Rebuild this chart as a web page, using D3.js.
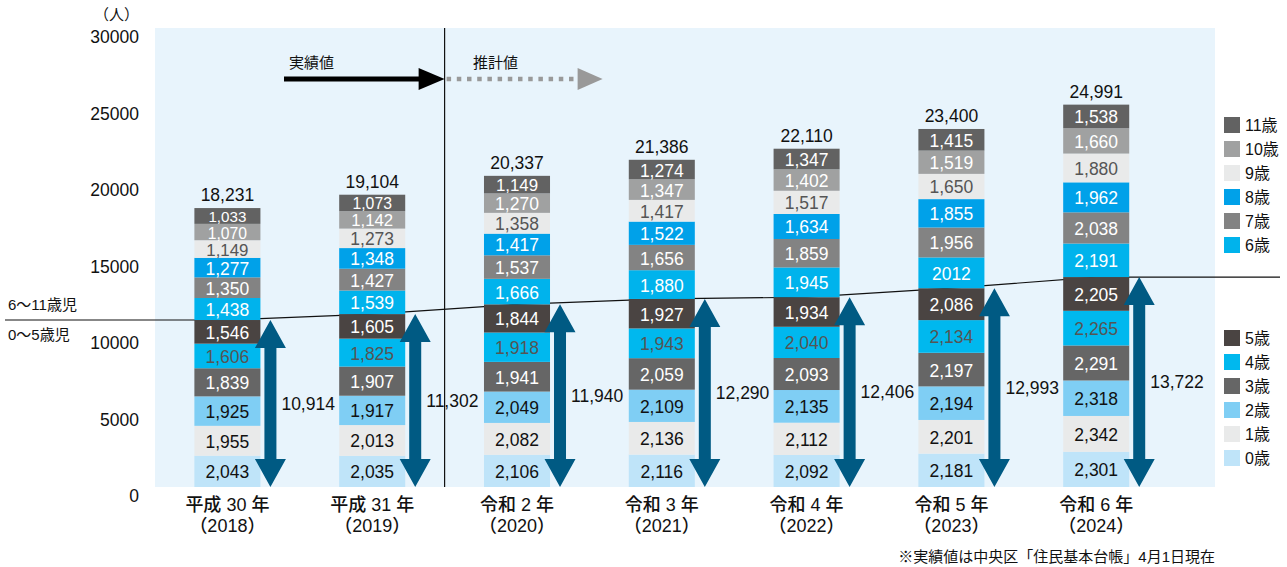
<!DOCTYPE html>
<html>
<head>
<meta charset="utf-8">
<script src="https://cdn.jsdelivr.net/npm/d3@7"></script>
<style>
	body { margin: 0; background: #fff; }
	svg { display: block; font-family: "Liberation Sans", "Noto Sans CJK JP", sans-serif; }
</style>
</head>
<body>
<div id="chart"></div>
<script>

///////////////////////////////////////////////////////////////////////
// data

const years = [ "2018", "2019", "2020", "2021", "2022", "2023", "2024" ];
const era_labels = [ "平成 30 年", "平成 31 年", "令和 2 年", "令和 3 年", "令和 4 年", "令和 5 年", "令和 6 年" ];
const ages = [ "0歳", "1歳", "2歳", "3歳", "4歳", "5歳", "6歳", "7歳", "8歳", "9歳", "10歳", "11歳" ];

// one row per age, one value per year
const age0  = [ 2043, 2035, 2106, 2116, 2092, 2181, 2301 ];
const age1  = [ 1955, 2013, 2082, 2136, 2112, 2201, 2342 ];
const age2  = [ 1925, 1917, 2049, 2109, 2135, 2194, 2318 ];
const age3  = [ 1839, 1907, 1941, 2059, 2093, 2197, 2291 ];
const age4  = [ 1606, 1825, 1918, 1943, 2040, 2134, 2265 ];
const age5  = [ 1546, 1605, 1844, 1927, 1934, 2086, 2205 ];
const age6  = [ 1438, 1539, 1666, 1880, 1945, 2012, 2191 ];
const age7  = [ 1350, 1427, 1537, 1656, 1859, 1956, 2038 ];
const age8  = [ 1277, 1348, 1417, 1522, 1634, 1855, 1962 ];
const age9  = [ 1149, 1273, 1358, 1417, 1517, 1650, 1880 ];
const age10 = [ 1070, 1142, 1270, 1347, 1402, 1519, 1660 ];
const age11 = [ 1033, 1073, 1149, 1274, 1347, 1415, 1538 ];

const series = [ age0, age1, age2, age3, age4, age5, age6, age7, age8, age9, age10, age11 ];

const y_ticks = [ 0, 5000, 10000, 15000, 20000, 25000, 30000 ];

// the reference prints this one without a comma
const label_override = { "2023-6": "2012" };

///////////////////////////////////////////////////////////////////////
// styles

const fills = [ "#bfe4f9", "#e9eaea", "#7fcef4", "#666666", "#00b8ee", "#4a4442",
	"#00b3ec", "#838383", "#00a1e9", "#e9eaea", "#a0a1a1", "#626262" ];
const text_fills = [ "#111", "#111", "#111", "#fff", "#555", "#fff",
	"#fff", "#fff", "#fff", "#555", "#fff", "#fff" ];

const arrow_blue = "#005a83";

///////////////////////////////////////////////////////////////////////

const W = 1287, H = 567;
const plot = { left: 155, right: 1215, top: 28, bottom: 487 };

let svg = d3.select( "#chart" )
	.append( "svg" )
		.attr( "width", W )
		.attr( "height", H );

let x = d3.scaleBand()
	.domain( years )
	.range( [ plot.left, plot.left + 7 * 144.8 ] )
	.paddingInner( 0.544 )
	.paddingOuter( 0.272 );

let y = d3.scaleLinear()
	.domain( [ 0, 30000 ] )
	.range( [ plot.bottom, plot.top ] );

let fmt = d3.format( "," );

// stacked rows
let rows = years.map( ( yr, i ) => {
	let r = { year: yr };
	ages.forEach( ( a, k ) => { r[ k ] = series[ k ][ i ]; } );
	return r;
} );
let stack = d3.stack().keys( d3.range( ages.length ) )( rows );

let sub05 = years.map( ( yr, i ) => d3.sum( series.slice( 0, 6 ), s => s[ i ] ) );
let totals = years.map( ( yr, i ) => d3.sum( series, s => s[ i ] ) );

// background
svg.append( "rect" )
	.attr( "x", plot.left )
	.attr( "y", plot.top )
	.attr( "width", plot.right - plot.left )
	.attr( "height", plot.bottom - plot.top )
	.attr( "fill", "#e8f4fc" );

// y axis labels
svg.append( "g" )
	.selectAll( "text" )
	.data( y_ticks )
	.join( "text" )
		.attr( "x", 139 )
		.attr( "y", d => y( d ) + 9 )
		.attr( "text-anchor", "end" )
		.attr( "dominant-baseline", "central" )
		.attr( "font-size", 17.5 )
		.attr( "fill", "#111" )
		.text( d => d );

svg.append( "text" )
	.attr( "x", 139 )
	.attr( "y", 14 )
	.attr( "text-anchor", "end" )
	.attr( "dominant-baseline", "central" )
	.attr( "font-size", 15 )
	.attr( "fill", "#111" )
	.text( "（人）" );

// separator between actual and estimate
let sep_x = ( x( "2019" ) + x.bandwidth() + x( "2020" ) ) / 2;
svg.append( "line" )
	.attr( "x1", sep_x ).attr( "x2", sep_x )
	.attr( "y1", plot.top ).attr( "y2", plot.bottom )
	.attr( "stroke", "#111" )
	.attr( "stroke-width", 1.2 );

// 0-5 line, passes behind the bars
let cx = yr => x( yr ) + x.bandwidth() / 2;
let line_pts = [ [ 5, y( sub05[ 0 ] ) ] ]
	.concat( years.map( ( yr, i ) => [ cx( yr ), y( sub05[ i ] ) ] ) )
	.concat( [ [ 1280, y( sub05[ sub05.length - 1 ] ) ] ] );

svg.append( "path" )
	.attr( "d", d3.line()( line_pts ) )
	.attr( "fill", "none" )
	.attr( "stroke", "#111" )
	.attr( "stroke-width", 1.2 );

svg.append( "text" )
	.attr( "x", 8 ).attr( "y", 304 )
	.attr( "dominant-baseline", "central" )
	.attr( "font-size", 15 )
	.attr( "fill", "#111" )
	.text( "6〜11歳児" );

svg.append( "text" )
	.attr( "x", 8 ).attr( "y", 334 )
	.attr( "dominant-baseline", "central" )
	.attr( "font-size", 15 )
	.attr( "fill", "#111" )
	.text( "0〜5歳児" );

// bars
let layers = svg.append( "g" )
	.selectAll( "g" )
	.data( stack )
	.join( "g" );

let seg_h = d => y( d.p[ 0 ] ) - y( d.p[ 1 ] );

layers.selectAll( "rect" )
	.data( d => d.map( p => ( { p, k: d.key } ) ) )
	.join( "rect" )
		.attr( "x", d => x( d.p.data.year ) )
		.attr( "y", d => y( d.p[ 1 ] ) )
		.attr( "width", x.bandwidth() )
		.attr( "height", seg_h )
		.attr( "fill", d => fills[ d.k ] );

layers.selectAll( "text" )
	.data( d => d.map( p => ( { p, k: d.key } ) ) )
	.join( "text" )
		.attr( "x", d => x( d.p.data.year ) + x.bandwidth() / 2 )
		.attr( "y", d => ( y( d.p[ 0 ] ) + y( d.p[ 1 ] ) ) / 2 + 1 )
		.attr( "text-anchor", "middle" )
		.attr( "dominant-baseline", "central" )
		.attr( "font-size", d => Math.min( 17.5, seg_h( d ) * 0.96 ) )
		.attr( "fill", d => text_fills[ d.k ] )
		.text( d => label_override[ d.p.data.year + "-" + d.k ] || fmt( d.p[ 1 ] - d.p[ 0 ] ) );

// totals
svg.append( "g" )
	.selectAll( "text" )
	.data( years )
	.join( "text" )
		.attr( "x", d => cx( d ) )
		.attr( "y", ( d, i ) => y( totals[ i ] ) - 7 )
		.attr( "text-anchor", "middle" )
		.attr( "font-size", 17.5 )
		.attr( "fill", "#111" )
		.text( ( d, i ) => fmt( totals[ i ] ) );

// double arrows for 0-5 subtotal
function double_arrow( ax, y0, y1 )	{

	let sw = 6, hw = 15.5, hl = 28;
	let p = [
		[ ax, y1 ], [ ax + hw, y1 + hl ], [ ax + sw, y1 + hl ],
		[ ax + sw, y0 - hl ], [ ax + hw, y0 - hl ], [ ax, y0 ],
		[ ax - hw, y0 - hl ], [ ax - sw, y0 - hl ], [ ax - sw, y1 + hl ],
		[ ax - hw, y1 + hl ]
	];
	return( "M" + p.map( q => q.join( "," ) ).join( "L" ) + "Z" );
}

let arrows = svg.append( "g" )
	.selectAll( "g" )
	.data( years )
	.join( "g" );

arrows.append( "path" )
	.attr( "d", ( d, i ) => double_arrow( x( d ) + x.bandwidth() + 10, y( 0 ), y( sub05[ i ] ) ) )
	.attr( "fill", arrow_blue );

arrows.append( "text" )
	.attr( "x", d => x( d ) + x.bandwidth() + 21 )
	.attr( "y", ( d, i ) => ( y( 0 ) + y( sub05[ i ] ) ) / 2 )
	.attr( "dominant-baseline", "central" )
	.attr( "font-size", 17.5 )
	.attr( "fill", "#111" )
	.text( ( d, i ) => fmt( sub05[ i ] ) );

// x labels
let xl = svg.append( "g" )
	.selectAll( "g" )
	.data( years )
	.join( "g" );

xl.append( "text" )
	.attr( "x", d => cx( d ) )
	.attr( "y", 511 )
	.attr( "text-anchor", "middle" )
	.attr( "font-size", 18 )
	.attr( "font-weight", 500 )
	.attr( "fill", "#111" )
	.text( ( d, i ) => era_labels[ i ] );

xl.append( "text" )
	.attr( "x", d => cx( d ) )
	.attr( "y", 532 )
	.attr( "text-anchor", "middle" )
	.attr( "font-size", 18 )
	.attr( "font-weight", 500 )
	.attr( "fill", "#111" )
	.text( d => "（" + d + "）" );

// actual / estimate arrows at top
svg.append( "line" )
	.attr( "x1", 284 ).attr( "x2", sep_x - 20 )
	.attr( "y1", 79 ).attr( "y2", 79 )
	.attr( "stroke", "#000" )
	.attr( "stroke-width", 5 );
svg.append( "path" )
	.attr( "d", `M${ sep_x - 26 },68L${ sep_x },79L${ sep_x - 26 },90Z` )
	.attr( "fill", "#000" );

svg.append( "line" )
	.attr( "x1", sep_x + 2 ).attr( "x2", sep_x + 132 )
	.attr( "y1", 79 ).attr( "y2", 79 )
	.attr( "stroke", "#999" )
	.attr( "stroke-width", 4.5 )
	.attr( "stroke-dasharray", "4.5 5.7" );
svg.append( "path" )
	.attr( "d", `M${ sep_x + 133 },68L${ sep_x + 158 },79L${ sep_x + 133 },90Z` )
	.attr( "fill", "#999" );

svg.append( "text" )
	.attr( "x", 289 ).attr( "y", 68 )
	.attr( "font-size", 15 )
	.attr( "fill", "#111" )
	.text( "実績値" );

svg.append( "text" )
	.attr( "x", 473 ).attr( "y", 68 )
	.attr( "font-size", 15 )
	.attr( "fill", "#111" )
	.text( "推計値" );

// legend
let upper = d3.range( 11, 5, -1 );
let lower = d3.range( 5, -1, -1 );

function legend( keys, y0 )	{

	let g = svg.append( "g" )
		.selectAll( "g" )
		.data( keys )
		.join( "g" )
			.attr( "transform", ( d, i ) => `translate(1224,${ y0 + i * 24 })` );

	g.append( "rect" )
		.attr( "x", 0 ).attr( "y", -8 )
		.attr( "width", 16 ).attr( "height", 16 )
		.attr( "fill", d => fills[ d ] );

	g.append( "text" )
		.attr( "x", 21 ).attr( "y", 0 )
		.attr( "dominant-baseline", "central" )
		.attr( "font-size", 16 )
		.attr( "fill", "#111" )
		.text( d => ages[ d ] );
}

legend( upper, 125 );
legend( lower, 338 );

// footnote
svg.append( "text" )
	.attr( "x", 1215 ).attr( "y", 562 )
	.attr( "text-anchor", "end" )
	.attr( "font-size", 15 )
	.attr( "fill", "#111" )
	.text( "※実績値は中央区「住民基本台帳」4月1日現在" );

</script>
</body>
</html>
